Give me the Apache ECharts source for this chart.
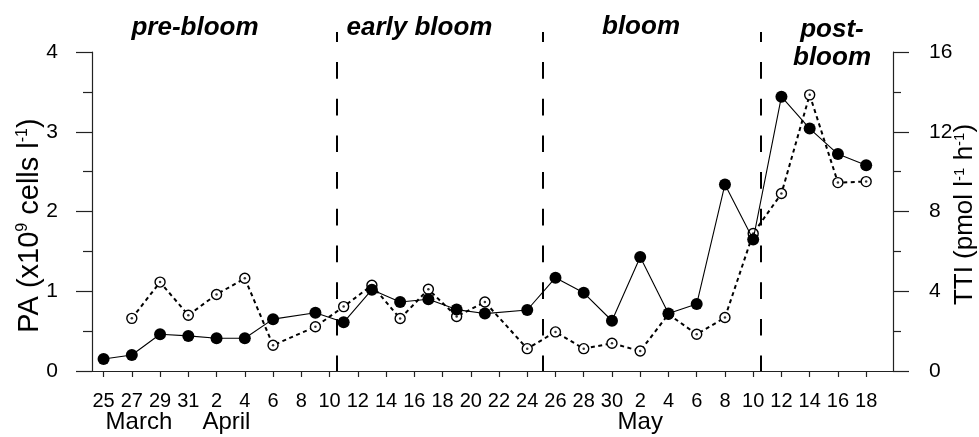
<!DOCTYPE html>
<html><head><meta charset="utf-8">
<script src="https://cdn.jsdelivr.net/npm/echarts@6/dist/echarts.min.js"></script>
<style>html,body{margin:0;padding:0;background:#fff}#c{width:979px;height:437px}</style>
</head><body><div id="c"></div>
<script>
// x positions are days counted from 25 March (day 0)
const tickDays = [0,2,4,6,8,10,12,14,16,18,20,22,24,26,28,30,32,34,36,38,40,42,44,46,48,50,52,54];
const tickLabels = ["25","27","29","31","2","4","6","8","10","12","14","16","18","20","22","24","26","28","30","2","4","6","8","10","12","14","16","18"];
const monthNames = ["March","April","May"];
const monthDays = [2.5, 8.7, 38];
const phaseNames = ["pre-bloom","early bloom","bloom","post-\nbloom"];
const phaseBounds = [16.5, 31.1, 46.5];

const paDays   = [0,2,4,6,8,10,12,15,17,19,21,23,25,27,30,32,34,36,38,40,42,44,46,48,50,52,54];
const paValues = [0.15,0.2,0.46,0.44,0.41,0.41,0.65,0.73,0.61,1.02,0.865,0.9,0.77,0.72,0.765,1.17,0.98,0.63,1.43,0.72,0.84,2.34,1.65,3.44,3.04,2.72,2.58];

const ttiDays   = [2,4,6,8,10,12,15,17,19,21,23,25,27,30,32,34,36,38,40,42,44,46,48,50,52,54];
const ttiValues = [2.64,4.46,2.8,3.84,4.65,1.29,2.22,3.23,4.3,2.63,4.1,2.73,3.46,1.12,1.96,1.12,1.39,1.0,2.85,1.84,2.68,6.9,8.9,13.85,9.45,9.5];

const FONT = '"Liberation Sans", Arial, Helvetica, sans-serif';
const X_MIN = -0.82, X_MAX = 55.9;
const AX = '#222';

const pa = paDays.map((d, i) => [d, paValues[i]]);
const tti = ttiDays.map((d, i) => [d, ttiValues[i]]);

const chart = echarts.init(document.getElementById('c'), null, {renderer: 'canvas'});

const option = {
  backgroundColor: '#fff',
  animation: false,
  grid: [
    {left: 92, right: 86, top: 52, bottom: 66, containLabel: false, outerBoundsMode: 'none'},
    {left: 92, right: 86, top: 32, bottom: 66, containLabel: false, outerBoundsMode: 'none'}
  ],
  xAxis: [
    {
      type: 'value', gridIndex: 0, min: X_MIN, max: X_MAX, position: 'bottom',
      splitLine: {show: false},
      axisLine: {show: true, onZero: false, lineStyle: {color: AX, width: 1.2}},
      axisTick: {show: true, inside: false, customValues: tickDays, length: 6, lineStyle: {color: AX, width: 1.2}},
      axisLabel: {show: true, customValues: tickDays, margin: 20, color: '#000', fontFamily: FONT, fontSize: 20,
        formatter: v => tickLabels[tickDays.indexOf(v)]}
    },
    {
      type: 'value', gridIndex: 0, min: X_MIN, max: X_MAX, position: 'bottom',
      splitLine: {show: false},
      axisLine: {show: false, onZero: false}, axisTick: {show: false},
      axisLabel: {show: true, customValues: monthDays, margin: 39, color: '#000', fontFamily: FONT, fontSize: 24,
        formatter: v => monthNames[monthDays.indexOf(v)]}
    },
    {
      type: 'value', gridIndex: 1, min: X_MIN, max: X_MAX, show: false
    }
  ],
  yAxis: [
    {
      type: 'value', gridIndex: 0, min: 0, max: 4, interval: 1, position: 'left',
      splitLine: {show: false},
      axisLine: {show: true, onZero: false, lineStyle: {color: AX, width: 1.2}},
      axisTick: {show: true, inside: false, length: 16, lineStyle: {color: AX, width: 1.2}},
      minorTick: {show: true, splitNumber: 2, length: 9, lineStyle: {color: AX, width: 1.2}},
      axisLabel: {margin: 34, color: '#000', fontFamily: FONT, fontSize: 21},
      name: '{t|PA (x10}{s|9}{t| cells l}{s|-1}{t|)}',
      nameLocation: 'middle', nameRotate: 90, nameGap: 48, nameMoveOverlap: false,
      nameTextStyle: {color: '#000', fontFamily: FONT, fontSize: 29, padding: [0, 28, 0, 0],
        rich: {t: {fontSize: 29, fontFamily: FONT, color: '#000'},
               s: {fontSize: 16, fontFamily: FONT, color: '#000', verticalAlign: 'top'}}}
    },
    {
      type: 'value', gridIndex: 0, min: 0, max: 16, interval: 4, position: 'right',
      splitLine: {show: false},
      axisLine: {show: true, onZero: false, lineStyle: {color: AX, width: 1.2}},
      axisTick: {show: true, inside: false, length: 16, lineStyle: {color: AX, width: 1.2}},
      minorTick: {show: true, splitNumber: 2, length: 8, lineStyle: {color: AX, width: 1.2}},
      axisLabel: {margin: 36, color: '#000', fontFamily: FONT, fontSize: 21},
      name: '{t|TTI (pmol l}{s|-1}{t| h}{s|-1}{t|)}',
      nameLocation: 'middle', nameRotate: 90, nameGap: 59, nameMoveOverlap: false,
      nameTextStyle: {color: '#000', fontFamily: FONT, fontSize: 26, padding: [0, 6, 0, 0],
        rich: {t: {fontSize: 26, fontFamily: FONT, color: '#000'},
               s: {fontSize: 15, fontFamily: FONT, color: '#000', verticalAlign: 'top'}}}
    },
    {
      type: 'value', gridIndex: 1, min: 0, max: 1, show: false
    }
  ],
  graphic: [
    {type: 'text', x: 195, y: 28, style: {text: phaseNames[0], font: 'italic bold 26px ' + FONT, fill: '#000', textAlign: 'center', textVerticalAlign: 'middle'}},
    {type: 'text', x: 419.5, y: 28, style: {text: phaseNames[1], font: 'italic bold 26px ' + FONT, fill: '#000', textAlign: 'center', textVerticalAlign: 'middle'}},
    {type: 'text', x: 641, y: 27, style: {text: phaseNames[2], font: 'italic bold 26px ' + FONT, fill: '#000', textAlign: 'center', textVerticalAlign: 'middle'}},
    {type: 'text', x: 832, y: 44, style: {text: phaseNames[3], font: 'italic bold 26px ' + FONT, fill: '#000', textAlign: 'center', textVerticalAlign: 'middle', lineHeight: 28}}
  ],
  series: [
    {
      type: 'line', xAxisIndex: 2, yAxisIndex: 2, data: [], silent: true,
      markLine: {
        silent: true, symbol: ['none', 'none'], animation: false,
        label: {show: false},
        lineStyle: {color: '#000', width: 2, type: [16.7, 20], dashOffset: 6.7},
        emphasis: {disabled: true},
        data: phaseBounds.map(b => [{coord: [b, 1]}, {coord: [b, 0]}])
      }
    },
    {
      name: 'TTI', type: 'line', xAxisIndex: 0, yAxisIndex: 1, data: tti,
      symbol: 'circle', symbolSize: 10, z: 3,
      lineStyle: {color: '#000', width: 2, type: [4, 3.5]},
      itemStyle: {color: '#fff', borderColor: '#000', borderWidth: 1.4},
      emphasis: {disabled: true}
    },
    {
      name: 'TTI dot', type: 'scatter', xAxisIndex: 0, yAxisIndex: 1, data: tti,
      symbol: 'circle', symbolSize: 2.5, z: 4,
      itemStyle: {color: '#000'}, emphasis: {disabled: true}
    },
    {
      name: 'PA', type: 'line', xAxisIndex: 0, yAxisIndex: 0, data: pa,
      symbol: 'circle', symbolSize: 12, z: 5,
      lineStyle: {color: '#000', width: 1.1},
      itemStyle: {color: '#000', borderColor: '#000', borderWidth: 0},
      emphasis: {disabled: true}
    }
  ]
};
chart.setOption(option);
</script>
</body></html>
